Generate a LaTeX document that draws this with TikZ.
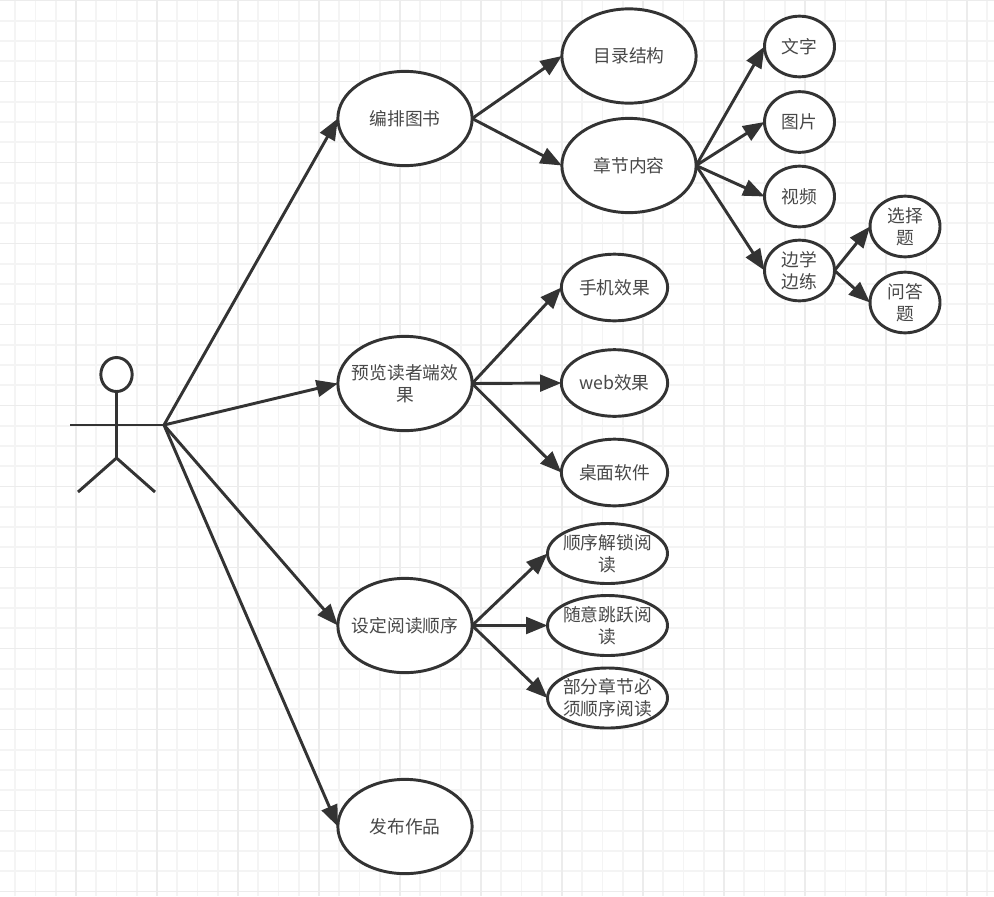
\documentclass[tikz,border=0pt]{standalone}
\usepackage{fontspec}
\setmainfont{Noto Sans CJK SC}
\usetikzlibrary{shapes,shapes.geometric}
\usetikzlibrary{calc,arrows.meta,positioning}
\definecolor{inkc}{HTML}{333333}
\definecolor{textc}{HTML}{484848}
\definecolor{gridminor}{HTML}{F4F4F4}
\definecolor{gridmajor}{HTML}{ECECEC}
\tikzset{
  usecase/.style={ellipse, draw=inkc, fill=white, line width=2.2pt, text=textc, align=center,
    inner sep=-20pt, outer sep=0pt, font=\fontsize{13.3pt}{16.5pt}\selectfont},
  big/.style={usecase, minimum width=100.7pt, minimum height=70.7pt},
  mid/.style={usecase, minimum width=79.7pt, minimum height=50pt},
  wide/.style={usecase, minimum width=90pt, minimum height=45pt},
  small/.style={usecase, minimum width=52.5pt, minimum height=45.5pt},
  link/.style={draw=inkc, line width=2.2pt, -{Triangle[length=16pt,width=12.5pt]}},
  stick/.style={draw=inkc, line width=2.2pt}
}
\begin{document}
\begin{tikzpicture}[x=0.75pt,y=-0.75pt]
    \path[use as bounding box, fill=white] (0,0) rectangle (994,896);
    % grid
    \begin{scope}
    \clip (0,0) rectangle (994,896);
    \foreach \i in {0,...,49} {
        \draw[gridminor, line width=1.4pt] ({-5+20.25*\i},0) -- ({-5+20.25*\i},896);
        \draw[gridminor, line width=1.4pt] (0,{0.5+20.25*\i}) -- (994,{0.5+20.25*\i});
    }
    \foreach \i in {0,...,12} {
        \draw[gridmajor, line width=1.4pt] ({-5+81*\i},0) -- ({-5+81*\i},896);
        \draw[gridmajor, line width=1.4pt] (0,{0.5+81*\i}) -- (994,{0.5+81*\i});
    }
    \end{scope}
    % actor
    \node (H) [ellipse, draw=inkc, fill=white, line width=2.2pt, inner sep=0pt, outer sep=0pt,
        minimum width=23.5pt, minimum height=25.5pt] at (116.5,374.5) {};
    \coordinate (N) at (116.5,458);
    \coordinate (L) at (70,425);
    \coordinate (R) at (164,425);
    \coordinate (P) at (78,492);
    \coordinate (Q) at (155,492);
    \draw[stick] (H.south) -- (N);
    \draw[stick] (L) -- (R);
    \draw[stick] (P) -- (N) -- (Q);
    % first level
    \node (A) [big] at (405,118.5) {编排图书};
    \node (B) [big] at (405,383.5) {预览读者端效\\果};
    \node (C) [big] at (405,625.5) {设定阅读顺序};
    \node (D) [big] at (405,826.5) {发布作品};
    % second level
    \node (A1) [big] at (629,56) {目录结构};
    \node (A2) [big] at (629,165.5) {章节内容};
    \node (B1) [mid] at (614.5,287.5) {手机效果};
    \node (B2) [mid] at (614.5,383) {web效果};
    \node (B3) [mid] at (614.5,472.5) {桌面软件};
    \node (C1) [wide] at (607.5,553.5) {顺序解锁阅\\读};
    \node (C2) [wide] at (607.5,625.5) {随意跳跃阅\\读};
    \node (C3) [wide] at (607.5,698) {部分章节必\\须顺序阅读};
    % third level
    \node (E1) [small] at (799.5,46.5) {文字};
    \node (E2) [small] at (799.5,122) {图片};
    \node (E3) [small] at (799.5,196.5) {视频};
    \node (E4) [small] at (799.5,270.5) {边学\\边练};
    \node (F1) [small] at (905,226.5) {选择\\题};
    \node (F2) [small] at (905,302.5) {问答\\题};
    % links
    \path[link] (R) -- (A.west);
    \path[link] (R) -- (B.west);
    \path[link] (R) -- (C.west);
    \path[link] (R) -- (D.west);
    \path[link] (A.east) -- (A1.west);
    \path[link] (A.east) -- (A2.west);
    \path[link] (B.east) -- (B1.west);
    \path[link] (B.east) -- (B2.west);
    \path[link] (B.east) -- (B3.west);
    \path[link] (C.east) -- (C1.west);
    \path[link] (C.east) -- (C2.west);
    \path[link] (C.east) -- (C3.west);
    \path[link] (A2.east) -- (E1.west);
    \path[link] (A2.east) -- (E2.west);
    \path[link] (A2.east) -- (E3.west);
    \path[link] (A2.east) -- (E4.west);
    \path[link] (E4.east) -- (F1.west);
    \path[link] (E4.east) -- (F2.west);
\end{tikzpicture}
\end{document}
